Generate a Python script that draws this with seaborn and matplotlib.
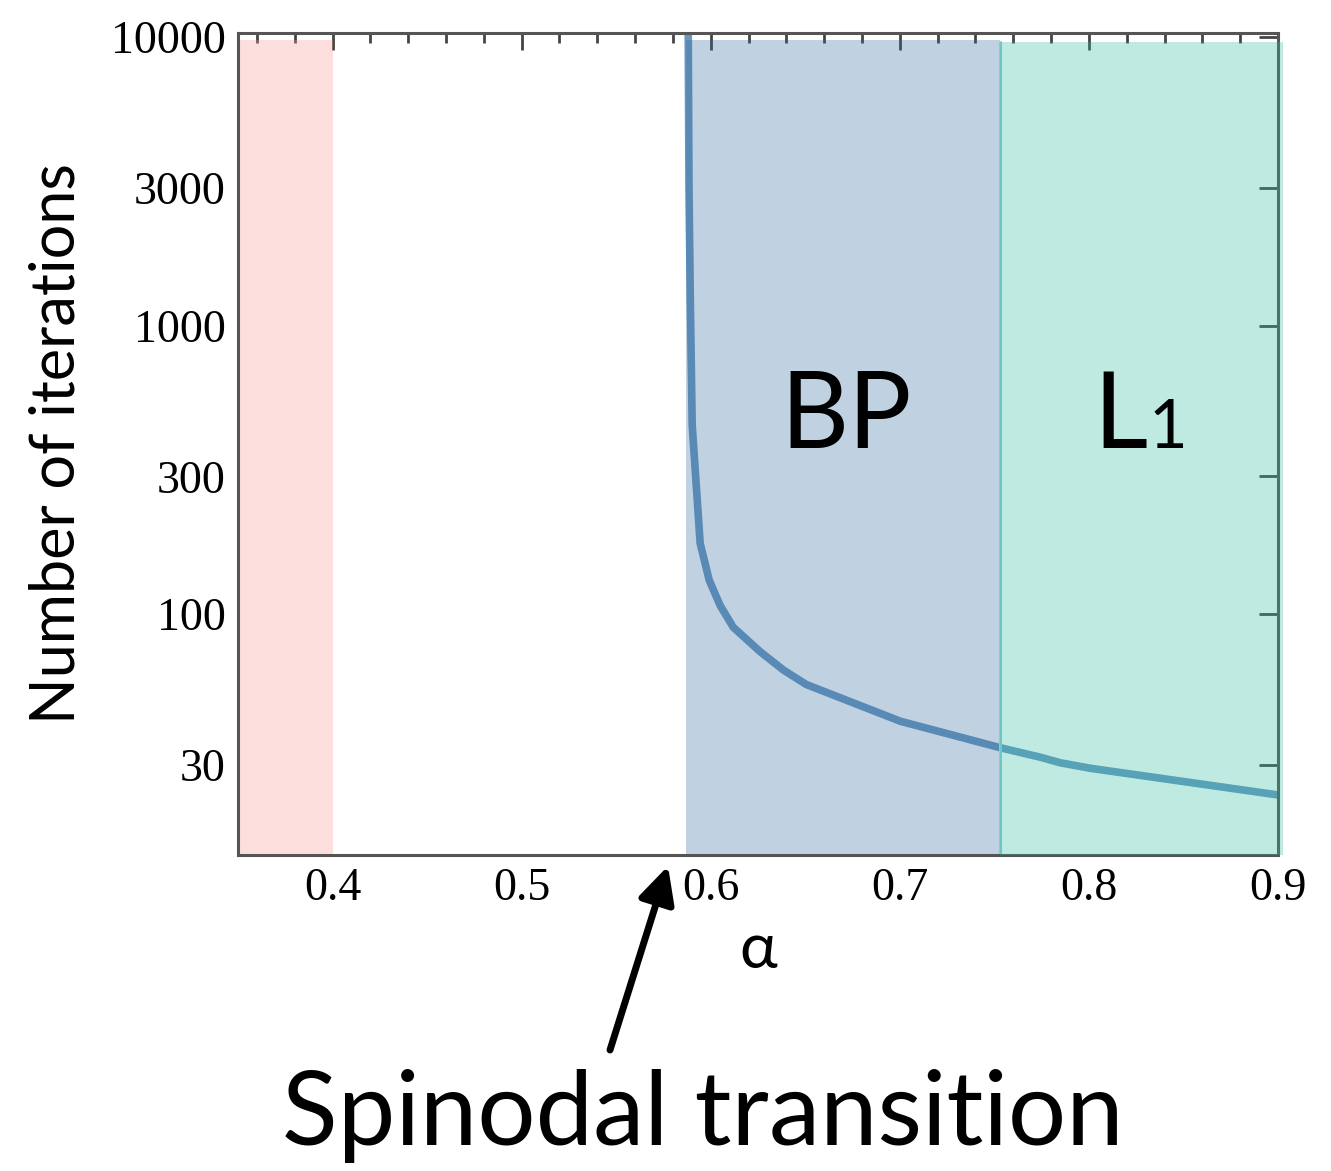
import matplotlib
matplotlib.use("Agg")
import matplotlib.pyplot as plt
import matplotlib.ticker as mticker
import numpy as np
import pandas as pd
import seaborn as sns

# BP iteration count versus measurement rate alpha
alpha = [0.5881, 0.5885, 0.5892, 0.5902, 0.5944, 0.5992, 0.605, 0.6119, 0.6262,
         0.6384, 0.6505, 0.7003, 0.7532, 0.7743, 0.785, 0.8008, 0.9]
iterations = [10300, 3000, 1225, 452, 176, 131, 107, 90, 74,
              64, 57, 42.5, 34.4, 31.9, 30.5, 29.2, 23.6]

# Region boundaries
pink_region = (0.35, 0.40)
bp_region = (0.587, 0.753)
l1_region = (0.753, 0.9027)
l1_boundary = 0.753

x_ticks = [0.4, 0.5, 0.6, 0.7, 0.8, 0.9]
x_tick_labels = ["0.4", "0.5", "0.6", "0.7", "0.8", "0.9"]
y_ticks = [30, 100, 300, 1000, 3000, 10000]
y_tick_labels = ["30", "100", "300", "1000", "3000", "10000"]

sns.set_theme(style="white")
plt.rcParams["font.family"] = ["Liberation Serif", "DejaVu Serif"]
plt.rcParams["text.color"] = "black"
plt.rcParams["axes.labelcolor"] = "black"
plt.rcParams["xtick.labelcolor"] = "black"
plt.rcParams["ytick.labelcolor"] = "black"

fig = plt.figure(figsize=(13.31, 11.71), dpi=100)
ax = fig.add_axes([0.1788, 0.2699, 0.9602 - 0.1788, 0.9718 - 0.2699])

df = pd.DataFrame({"alpha": alpha, "iterations": iterations})
sns.lineplot(data=df, x="alpha", y="iterations", ax=ax, color="#6a97c0",
             linewidth=5.5, sort=False, zorder=2)

ax.set_yscale("log")
ax.set_xlim(0.35, 0.9)
ax.set_ylim(10 ** 1.165, 10 ** 4.014)

# Shaded regions laid over the curve
ax.axvspan(*pink_region, ymax=0.991, color="#f89891", alpha=0.3, lw=0, zorder=3)
ax.axvspan(*bp_region, ymax=0.991, color="#306c9e", alpha=0.3, lw=0, zorder=3)
ax.axvspan(*l1_region, ymax=0.989, color="#2dbca2", alpha=0.3, lw=0, zorder=6,
           clip_on=False)
ax.axvline(l1_boundary, ymax=0.989, color="#8ccbd3", lw=2.2, zorder=4)

ax.set_xticks(x_ticks)
ax.set_xticklabels(x_tick_labels)
ax.xaxis.set_minor_locator(mticker.MultipleLocator(0.02))
ax.yaxis.set_major_locator(mticker.FixedLocator(y_ticks))
ax.yaxis.set_major_formatter(mticker.FixedFormatter(y_tick_labels))
ax.yaxis.set_minor_locator(mticker.NullLocator())

ax.tick_params(axis="both", which="major", direction="in", top=True, right=True,
               labelsize=33, color="#444444", width=2, length=12, pad=9)
ax.tick_params(axis="y", which="major", length=14)
ax.tick_params(axis="x", which="minor", direction="in", top=True,
               color="#444444", width=2, length=7)
for sp in ax.spines.values():
    sp.set_color("#555555")
    sp.set_linewidth(2.2)
    sp.set_zorder(5)

sans = ["Lato", "DejaVu Sans"]
ax.set_xlabel("α", fontsize=46, family=sans, labelpad=8)
ax.set_ylabel("Number of iterations", fontsize=44, family=sans, labelpad=18)

ax.text(0.6367, 376, "BP", fontsize=76, family=sans, ha="left", va="baseline", zorder=7)
ax.text(0.8021, 376, "L", fontsize=76, family=sans, ha="left", va="baseline", zorder=7)
ax.text(0.8315, 376, "1", fontsize=48, family=sans, ha="left", va="baseline", zorder=7)

fig.text(703 / 1331, 1 - 1145 / 1171, "Spinodal transition", fontsize=74,
         family=sans, ha="center", va="baseline")

fig.patches.append(matplotlib.patches.FancyArrowPatch(
    (610 / 1331, 1 - 1050 / 1171), (668 / 1331, 1 - 866 / 1171),
    transform=fig.transFigure, arrowstyle="-|>,head_length=22,head_width=11",
    color="black", lw=5, mutation_scale=1, shrinkA=0, shrinkB=0))

fig.savefig("out.png", dpi=100, facecolor="white")
